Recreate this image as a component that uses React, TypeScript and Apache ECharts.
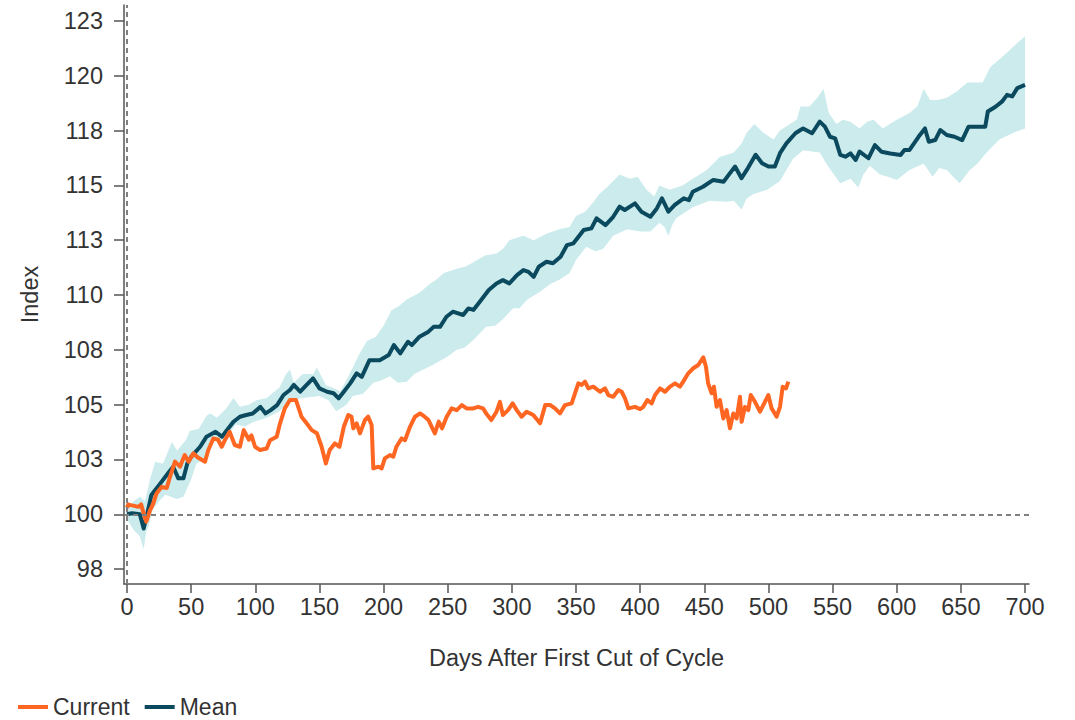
import React, { useEffect, useRef } from "react";
import * as echarts from "echarts";

// ---------- data ----------
const currentDays = [0, 1, 3, 9, 11, 13, 15, 18, 20.5, 23, 27, 31, 33.5, 37.4, 41.3, 45, 48, 51.7, 55, 60.8, 63.4, 67.3, 71, 73.8, 77, 80, 84, 88, 91, 95, 97, 99.8, 103.7, 108.9, 111.5, 116.7, 119.3, 123, 127, 131.7, 136, 140, 144, 148, 151.7, 155, 158, 162, 165.6, 169, 172.5, 175, 176.4, 179, 181.6, 185.5, 188, 190.7, 192, 196, 198.5, 201, 205, 207.6, 210, 214, 216.7, 220.6, 224.5, 228.4, 232, 235, 237.5, 240, 243, 245.6, 249.2, 253, 257, 261, 264.7, 270, 273.6, 277.5, 280, 284, 288, 290.7, 293, 297, 300.6, 303.8, 307.6, 311.5, 316.7, 322, 326, 330, 333.6, 337.5, 341.4, 346.6, 349.2, 351.8, 354.4, 357, 359.6, 363.5, 368.7, 372.6, 375.2, 379, 383, 385.6, 388.2, 390.8, 396, 400, 402.5, 405.6, 409, 411.6, 415.5, 419.4, 423.3, 427.2, 431, 433.6, 437.5, 441.4, 445.3, 449.2, 451.3, 453, 455.7, 457.5, 459.6, 462.2, 464.8, 467.4, 470, 472.6, 475.2, 477.8, 479.1, 481.7, 484.3, 486.2, 489.5, 493.4, 496, 499.9, 502.5, 506.4, 509, 511.1, 513.7, 515.5];
const currentValues = [100.3, 100.45, 100.42, 100.34, 100.45, 100.04, 99.66, 100.19, 100.5, 100.95, 101.25, 101.2, 101.71, 102.4, 102.17, 102.7, 102.4, 102.78, 102.6, 102.4, 102.93, 103.46, 103.4, 103.08, 103.46, 103.76, 103.16, 103.08, 103.84, 103.4, 103.6, 103.08, 102.93, 103.0, 103.38, 103.54, 104.15, 104.83, 105.21, 105.21, 104.45, 104.15, 103.84, 103.7, 103.08, 102.32, 102.93, 103.23, 103.08, 103.99, 104.53, 104.45, 103.92, 104.15, 103.69, 104.3, 104.45, 104.07, 102.09, 102.17, 102.09, 102.55, 102.7, 102.63, 103.08, 103.46, 103.38, 103.99, 104.45, 104.6, 104.45, 104.3, 103.99, 103.69, 104.23, 103.92, 104.45, 104.83, 104.75, 104.98, 104.83, 104.83, 104.9, 104.83, 104.6, 104.3, 104.68, 105.13, 104.53, 104.75, 105.06, 104.75, 104.45, 104.68, 104.53, 104.15, 104.98, 104.98, 104.83, 104.6, 104.98, 105.06, 105.52, 105.97, 105.9, 106.05, 105.74, 105.82, 105.59, 105.74, 105.44, 105.36, 105.67, 105.59, 105.29, 104.83, 104.9, 104.8, 104.9, 105.21, 105.06, 105.44, 105.74, 105.59, 105.82, 105.97, 105.82, 106.05, 106.43, 106.66, 106.81, 107.16, 106.73, 105.97, 105.52, 105.82, 104.9, 105.21, 104.37, 104.75, 103.92, 104.6, 104.37, 105.36, 104.22, 104.9, 104.75, 105.44, 105.13, 104.68, 104.98, 105.44, 104.83, 104.45, 104.9, 105.82, 105.74, 106.05];

const meanDays = [0, 4, 10, 13, 17, 19, 26, 32, 36, 40, 44, 47, 50, 57, 62, 69, 74, 78, 83, 88, 93, 98, 104, 108, 112, 117, 122, 127, 130, 135, 140, 145, 150, 156, 161, 165, 169, 174, 179, 183, 189, 197, 204, 208, 213, 219, 222, 228, 235, 239, 244, 249, 254, 262, 266, 270, 275, 282, 288, 293, 298, 304, 309, 313, 317, 321, 327, 332, 338, 343, 348, 356, 362, 366, 373, 379, 384, 388, 396, 401, 408, 413, 417, 422, 427, 434, 438, 441, 449, 457, 465, 469, 474, 479, 484, 490, 495, 500, 505, 509, 514, 521, 525, 527, 534, 540, 544, 548, 552, 556, 560, 564, 568, 571, 578, 583, 588, 595, 603, 606, 610, 617, 622, 625, 630, 634, 639, 645, 651, 656, 662, 669, 671, 677, 682, 686, 690, 694, 700];
const meanValues = [100.0, 100.05, 100.0, 99.35, 100.34, 100.88, 101.41, 101.87, 102.17, 101.64, 101.64, 102.32, 102.62, 103.08, 103.54, 103.76, 103.54, 103.84, 104.22, 104.45, 104.53, 104.6, 104.9, 104.6, 104.75, 104.98, 105.44, 105.67, 105.9, 105.59, 105.9, 106.2, 105.74, 105.59, 105.52, 105.29, 105.59, 105.97, 106.43, 106.27, 107.03, 107.03, 107.26, 107.72, 107.34, 107.87, 107.72, 108.1, 108.33, 108.55, 108.55, 109.01, 109.24, 109.09, 109.39, 109.32, 109.69, 110.23, 110.53, 110.68, 110.53, 110.91, 111.14, 111.06, 110.83, 111.29, 111.52, 111.45, 111.75, 112.28, 112.36, 112.97, 113.04, 113.5, 113.19, 113.57, 114.03, 113.88, 114.18, 113.8, 113.57, 113.95, 114.41, 113.8, 114.11, 114.41, 114.33, 114.71, 114.94, 115.25, 115.17, 115.48, 115.86, 115.33, 115.79, 116.4, 116.01, 115.86, 115.86, 116.47, 116.92, 117.38, 117.53, 117.6, 117.38, 117.91, 117.68, 117.22, 117.15, 116.39, 116.31, 116.46, 116.16, 116.54, 116.24, 116.84, 116.54, 116.46, 116.39, 116.62, 116.62, 117.22, 117.6, 116.99, 117.07, 117.53, 117.3, 117.22, 117.07, 117.68, 117.68, 117.68, 118.37, 118.59, 118.82, 119.13, 119.06, 119.44, 119.59];

const upperDays = [0, 5, 10, 14, 18, 22, 28, 35, 39, 46, 49, 56, 62, 65, 70, 77, 83, 88, 95, 101, 109, 115, 119, 124, 127, 130, 137, 145, 148, 155, 163, 166, 170, 176, 181, 187, 194, 200, 206, 212, 218, 228, 236, 241, 247, 257, 264, 270, 279, 288, 293, 298, 309, 317, 327, 337, 345, 350, 357, 363, 368, 374, 379, 384, 392, 398, 405, 411, 415, 423, 433, 441, 452, 462, 473, 479, 483, 489, 496, 504, 509, 514, 522, 525, 532, 538, 543, 547, 553, 558, 564, 571, 577, 582, 589, 600, 610, 616, 621, 626, 632, 639, 647, 655, 667, 673, 683, 694, 700];
const upperValues = [100.2, 100.6, 100.8, 100.6, 101.6, 102.4, 102.3, 103.3, 102.9, 103.4, 103.8, 103.9, 104.5, 104.6, 104.4, 104.8, 105.3, 104.9, 105.0, 105.2, 105.3, 105.6, 105.8, 106.4, 106.6, 106.0, 106.4, 106.4, 106.7, 105.9, 105.7, 105.6, 106.0, 106.7, 107.3, 107.9, 108.1, 108.6, 109.3, 109.5, 109.8, 110.1, 110.5, 110.7, 111.0, 111.2, 111.3, 111.5, 111.8, 111.9, 112.1, 112.5, 112.7, 112.5, 112.8, 113.0, 113.1, 113.6, 113.8, 114.2, 114.6, 114.9, 115.2, 115.5, 115.3, 115.4, 114.8, 114.5, 115.0, 114.8, 115.0, 115.3, 115.7, 116.3, 116.5, 116.9, 117.4, 117.8, 117.4, 117.1, 117.5, 117.7, 118.0, 118.6, 118.6, 119.0, 119.4, 118.3, 117.8, 118.0, 117.9, 117.6, 117.9, 118.0, 117.6, 118.0, 118.3, 118.6, 119.4, 118.9, 118.9, 119.0, 119.3, 119.7, 119.7, 120.4, 120.9, 121.5, 121.8];

const lowerDays = [0, 5, 10, 13, 15, 17, 20, 25, 30, 34, 39, 44, 50, 54, 62, 67, 72, 77, 85, 92, 98, 109, 119, 127, 137, 150, 157, 163, 171, 176, 184, 192, 198, 205, 211, 218, 224, 231, 238, 244, 250, 257, 263, 270, 280, 287, 293, 301, 306, 312, 322, 330, 337, 345, 350, 358, 365, 371, 379, 390, 400, 408, 415, 419, 422, 425, 428, 441, 454, 467, 473, 479, 483, 488, 499, 509, 519, 527, 540, 545, 551, 556, 564, 570, 574, 579, 587, 593, 600, 610, 621, 628, 633, 639, 644, 649, 657, 663, 670, 680, 691, 700];
const lowerValues = [99.8, 99.3, 99.0, 98.4, 99.2, 99.5, 100.2, 100.6, 100.9, 100.8, 100.7, 100.8, 101.6, 102.3, 102.6, 103.4, 103.3, 103.5, 104.1, 104.0, 104.2, 104.4, 104.7, 105.2, 105.3, 105.4, 105.2, 104.7, 105.0, 105.4, 105.5, 106.0, 106.1, 106.3, 106.0, 106.05, 106.4, 106.6, 106.8, 107.0, 107.2, 107.5, 107.6, 107.95, 108.55, 108.6, 108.9, 109.4, 109.4, 109.8, 110.15, 110.5, 110.7, 111.0, 111.6, 112.2, 112.0, 112.1, 112.7, 113.0, 112.9, 112.9, 113.3, 113.1, 112.7, 113.2, 113.5, 114.0, 114.3, 114.25, 114.3, 113.9, 114.4, 114.6, 114.8, 115.2, 116.2, 116.6, 116.5, 116.0, 115.5, 115.1, 115.3, 114.9, 115.5, 115.9, 115.5, 115.4, 115.25, 115.7, 116.0, 115.4, 115.8, 115.7, 115.4, 115.1, 115.7, 116.0, 116.5, 117.1, 117.4, 117.6];

const xTicks = [0, 50, 100, 150, 200, 250, 300, 350, 400, 450, 500, 550, 600, 650, 700];
const yTicks = [97.5, 100, 102.5, 105, 107.5, 110, 112.5, 115, 117.5, 120, 122.5];
const baseline = 100;

const seriesNames = ["Current", "Mean"];
const COLORS = { current: "#FF6622", mean: "#0B4A5E", band: "#CBEBEC", ref: "#808080", text: "#333333", axis: "#555555" };
const FONT = "'Liberation Sans', Arial, Helvetica, sans-serif";

export default function App() {
  const ref = useRef<HTMLDivElement>(null);

  useEffect(() => {
    if (!ref.current) return;
    const chart = echarts.init(ref.current, null, { renderer: "svg" });

    const currentData = currentDays.map((d, i) => [d, currentValues[i]]);
    const meanData = meanDays.map((d, i) => [d, meanValues[i]]);

    const option: any = {
      animation: false,
      backgroundColor: "#ffffff",
      textStyle: { fontFamily: FONT },
      grid: { left: 124, right: 46, top: 5, bottom: 136 },
      legend: {
        data: seriesNames,
        left: 18,
        top: 695,
        padding: 0,
        icon: "rect",
        itemWidth: 30,
        itemHeight: 4,
        itemGap: 15,
        textStyle: { fontSize: 23, lineHeight: 24, color: COLORS.text, fontFamily: FONT },
      },
      xAxis: {
        type: "value",
        min: -2.34,
        max: 703.1,
        name: "Days After First Cut of Cycle",
        nameLocation: "middle",
        nameGap: 62,
        nameTextStyle: { fontSize: 23.5, color: COLORS.text, fontFamily: FONT },
        splitLine: { show: false },
        axisLine: { show: true, onZero: false, lineStyle: { color: COLORS.axis, width: 1.5 } },
        axisTick: { show: true, length: 9, customValues: xTicks, lineStyle: { color: COLORS.axis, width: 1.5 } },
        axisLabel: { customValues: xTicks, margin: 11, fontSize: 23.5, color: COLORS.text, fontFamily: FONT },
      },
      yAxis: {
        type: "value",
        min: 96.82,
        max: 123.23,
        name: "Index",
        nameLocation: "middle",
        nameGap: 82,
        nameRotate: 90,
        nameTextStyle: { fontSize: 23.5, color: COLORS.text, fontFamily: FONT },
        splitLine: { show: false },
        axisLine: { show: true, onZero: false, lineStyle: { color: COLORS.axis, width: 1.5 } },
        axisTick: { show: true, length: 10, customValues: yTicks, lineStyle: { color: COLORS.axis, width: 1.5 } },
        axisLabel: {
          customValues: yTicks,
          margin: 21,
          fontSize: 23.5,
          color: COLORS.text,
          fontFamily: FONT,
          formatter: (v: number) => String(Math.round(v)),
        },
      },
      series: [
        {
          type: "custom",
          name: "Band",
          silent: true,
          z: 1,
          data: [[0, baseline]],
          renderItem: (_params: any, api: any) => {
            const pts: number[][] = [];
            for (let i = 0; i < upperDays.length; i++) pts.push(api.coord([upperDays[i], upperValues[i]]));
            for (let i = lowerDays.length - 1; i >= 0; i--) pts.push(api.coord([lowerDays[i], lowerValues[i]]));
            return { type: "polygon", shape: { points: pts }, style: { fill: COLORS.band, stroke: null } };
          },
          markLine: {
            silent: true,
            symbol: "none",
            label: { show: false },
            lineStyle: { type: [5, 4], color: COLORS.ref, width: 2 },
            data: [{ yAxis: baseline }, { xAxis: 0 }],
          },
        },
        {
          type: "line",
          name: "Mean",
          data: meanData,
          showSymbol: false,
          symbol: "none",
          z: 3,
          lineStyle: { color: COLORS.mean, width: 4, join: "round" },
          itemStyle: { color: COLORS.mean },
        },
        {
          type: "line",
          name: "Current",
          data: currentData,
          showSymbol: false,
          symbol: "none",
          z: 4,
          lineStyle: { color: COLORS.current, width: 4, join: "round" },
          itemStyle: { color: COLORS.current },
        },
      ],
    };

    chart.setOption(option);
    return () => chart.dispose();
  }, []);

  return (
    <div
      ref={ref}
      style={{ position: "fixed", left: 0, top: 0, width: 1075, height: 720, background: "#fff" }}
    />
  );
}
